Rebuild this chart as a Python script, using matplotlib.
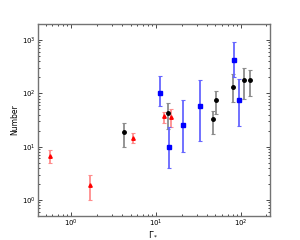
import matplotlib
matplotlib.use("Agg")
import matplotlib.pyplot as plt
import numpy as np

# Red series
red_x = [0.56, 1.67, 5.3, 12.5, 15.0]
red_y = [6.8, 1.9, 14.6, 36.8, 35.7]
red_lo = [5.0, 1.0, 11.7, 28, 23]
red_hi = [8.8, 3.0, 17.8, 44, 51]

# Black series
blk_x = [4.2, 13.8, 47.2, 50.8, 79.8, 110, 129]
blk_y = [18.6, 42.5, 32.7, 76, 130, 181, 181]
blk_lo = [9.7, 21.6, 17.6, 41, 69, 79, 90]
blk_hi = [28, 66, 47, 112, 229, 300, 280]

# Blue series
blu_x = [11.2, 14.0, 21, 33.3, 83.5, 95.5]
blu_y = [103, 9.9, 26, 57.6, 414, 75]
blu_lo = [57, 4.0, 8, 12.8, 203, 24.6]
blu_hi = [208, 23, 74, 181, 905, 189]

fig = plt.figure(figsize=(3.0, 2.4), dpi=100)
ax = fig.add_axes([0.125, 0.1, 0.775, 0.8])

def draw(x, y, lo, hi, color, ecolor, marker, ms):
    x = np.array(x); y = np.array(y)
    yerr = [y - np.array(lo), np.array(hi) - y]
    ax.errorbar(x, y, yerr=yerr, fmt=marker, color=color, ecolor=ecolor,
                ms=ms, mec=color, elinewidth=1.3, capsize=1.5, capthick=0.8)

draw(red_x, red_y, red_lo, red_hi, 'red', (1.0, 0.55, 0.55), '^', 2.5)
draw(blk_x, blk_y, blk_lo, blk_hi, 'black', (0.55, 0.55, 0.55), 'o', 2.5)
draw(blu_x, blu_y, blu_lo, blu_hi, 'blue', (0.4, 0.4, 1.0), 's', 3)

ax.set_xscale('log')
ax.set_yscale('log')
ax.set_xlim(0.4, 220)
ax.set_ylim(0.5, 2000)
ax.tick_params(which='both', direction='in', top=True, right=True, labelsize=5, pad=1.5)
ax.tick_params(which='major', length=3, width=0.5)
ax.tick_params(which='minor', length=1.5, width=0.5)
for s in ax.spines.values():
    s.set_color('0.45')
    s.set_linewidth(1.0)
ax.set_xlabel(r'$\mathit{\Gamma}_*$', fontsize=6, labelpad=0)
ax.set_ylabel('Number', fontsize=5.5, labelpad=2)
fig.savefig('out.png', dpi=100)
